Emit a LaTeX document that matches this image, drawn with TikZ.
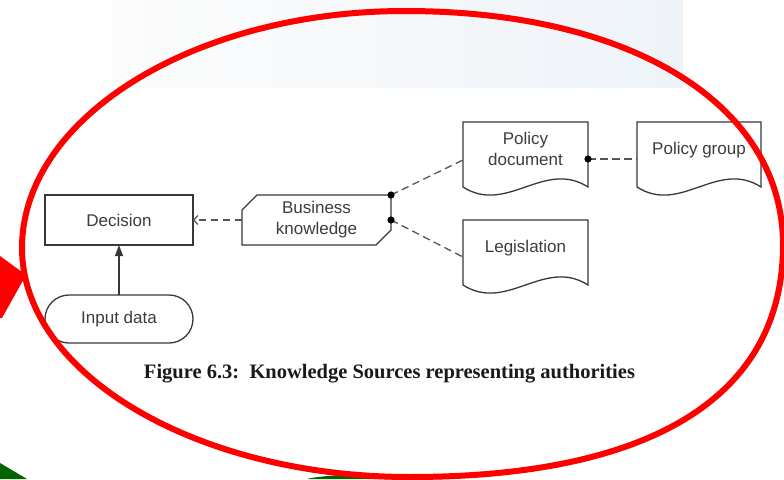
\documentclass[tikz,border=0pt]{standalone}
\usepackage{fontspec}
\newfontfamily\arialf{Liberation Sans}
\newfontfamily\timesf{Liberation Serif}
\usetikzlibrary{arrows.meta,calc}
\definecolor{linegray}{HTML}{383838}
\definecolor{txtgray}{HTML}{3C3C3C}
\definecolor{dashgray}{HTML}{555555}
\definecolor{darkgreen}{HTML}{006400}
\definecolor{paleA}{HTML}{FCFCFC}
\definecolor{paleB}{HTML}{EEF3F8}
\begin{document}
\begin{tikzpicture}[x=1pt,y=-1pt,
  every node/.style={inner sep=0pt, outer sep=0pt},
  lbl/.style={font=\arialf\fontsize{17}{21}\selectfont, text=txtgray, align=center},
  boxnode/.style={lbl, draw=linegray, line width=1.3pt, minimum width=148pt, minimum height=50pt},
  pill/.style={lbl, draw=linegray, line width=1.3pt, minimum width=148pt, minimum height=48pt, rounded corners=24pt},
  docnode/.style={lbl, minimum width=125pt, minimum height=53pt},
  outline/.style={draw=linegray, line width=1.3pt, line join=miter},
  dashedline/.style={draw=dashgray, line width=1.3pt, dash pattern=on 7.5pt off 4.5pt},
  flow/.style={draw=linegray, line width=1.2pt, -{Triangle[length=11pt,width=8pt]}},
  know/.style={dashedline, -{Straight Barb[length=4pt,width=9pt]}},
  redmark/.style={draw=red, line width=6pt},
]
\useasboundingbox (0,0) rectangle (784,479);
% pale background
\shade[left color=paleA, right color=paleB] (113,0) rectangle (683,87);
% green shapes
\fill[darkgreen] (0,463) -- (27,479) -- (0,479) -- cycle;
\fill[darkgreen] (307,479) .. controls (330,473) and (420,472) .. (443,479) -- cycle;
% red arrow head
\fill[red] (0,256) -- (26,275) -- (2,318) -- (0,318) -- cycle;

% nodes
\node[boxnode] (dec) at (119,220) {Decision};
\node[pill] (inp) at (119,319) {Input data};
\node[lbl, minimum width=149pt, minimum height=50pt] (bk) at (316.5,220) {Business\\knowledge};
\draw[outline] ([yshift=-15pt]bk.north west) -- ([xshift=15pt]bk.north west) -- (bk.north east)
  -- ([yshift=15pt]bk.south east) -- ([xshift=-15pt]bk.south east) -- (bk.south west) -- cycle;

\node[docnode] (pd) at (525.5,148.5) {Policy\\document};
\node[docnode, minimum width=124pt] (pg) at (699,150) {Policy group};
\node[docnode] (leg) at (525.5,248) {Legislation};
\foreach \d/\s in {pd/0,pg/-1.5,leg/-1.5}{
  \draw[outline] let \p1=(\d.south west), \p2=(\d.south east), \n1={\x2-\x1} in
    ($(\d.north west)+(0,\s)$) -- ($(\d.north east)+(0,\s)$) -- ($(\d.south east)+(0,12+\s)$)
    .. controls ($(\d.south west)+(0.65*\n1,-16+\s)$) and ($(\d.south west)+(0.35*\n1,40+\s)$) .. ($(\d.south west)+(0,12+\s)$)
    -- cycle;
}

% connectors
\draw[flow] (inp.north) -- (dec.south);
\draw[know] (bk.west) -- (dec.east);
\coordinate (pdin) at ([yshift=-11.5pt]pd.west);
\coordinate (legin) at ([yshift=-9pt]leg.west);
\coordinate (pdout) at ([yshift=-10.5pt]pd.east);
\coordinate (pgin) at ([yshift=-9pt]pg.west);
\draw[dashedline] (bk.north east) -- (pdin);
\draw[dashedline] (bk.east) -- (legin);
\draw[dashedline] (pdout) -- (pgin);
\fill[black] (bk.north east) circle[radius=3.6pt];
\fill[black] (bk.east) circle[radius=3.6pt];
\fill[black] (pdout) circle[radius=3.6pt];

% caption
\node[font=\timesf\bfseries\fontsize{20.5}{24}\selectfont, text=black!90, anchor=base] (cap) at (389.5,378)
  {Figure 6.3:\ \ Knowledge Sources representing authorities};

% red ellipse
\draw[redmark] (405,11)
  .. controls (631.8,11) and (783,104.6) .. (783,245)
  .. controls (783,395.8) and (652.5,477) .. (410,477)
  .. controls (196.6,477) and (22,374) .. (22,248)
  .. controls (22,117.6) and (194.4,11) .. (405,11) -- cycle;
\end{tikzpicture}
\end{document}
